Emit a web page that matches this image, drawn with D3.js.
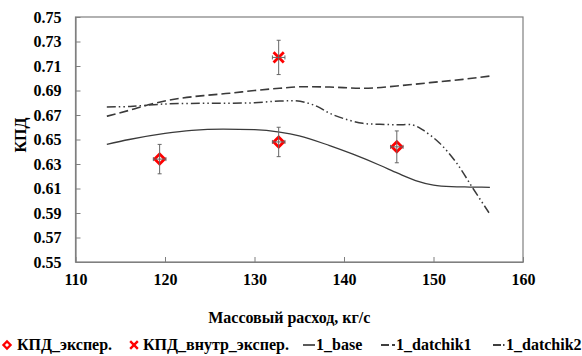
<!DOCTYPE html>
<html>
<head>
<meta charset="utf-8">
<script src="https://cdn.jsdelivr.net/npm/d3@7"></script>
<style>
  body { margin: 0; background: #fff; }
  svg text { font-family: "Liberation Serif", "DejaVu Serif", serif !important; font-weight: bold; fill: #000; }
</style>
</head>
<body>
<svg id="chart" width="582" height="356"></svg>
<script>
// experimental points
const expX = [119.4, 132.7, 145.9];
const expY = [0.634, 0.648, 0.644];
const expErr = [0.012, 0.012, 0.013];
const innerX = [132.7];
const innerY = [0.717];
const innerErr = [0.014];
const xErr = 0.7;

// model curves
const baseX = [113.5, 116, 120, 123, 126.5, 130, 132.8, 135, 138.4, 141, 144, 146, 148, 150, 152, 154, 156.3];
const baseY = [0.646, 0.650, 0.655, 0.6575, 0.6585, 0.658, 0.656, 0.653, 0.645, 0.638, 0.629, 0.6225, 0.6165, 0.6128, 0.6115, 0.6112, 0.611];
const d1X = [113.5, 116.1, 118.5, 121.7, 124.5, 127.2, 130, 132.8, 135.4, 138.4, 142.1, 145.9, 149.6, 153.3, 156.3];
const d1Y = [0.669, 0.674, 0.679, 0.6836, 0.686, 0.6877, 0.690, 0.6918, 0.6931, 0.6928, 0.6918, 0.6937, 0.6964, 0.6991, 0.7018];
const d2X = [113.5, 116.1, 120, 124, 127.2, 130, 132.8, 135.1, 137, 138.4, 140, 142.1, 144, 146, 147.7, 148.8, 150.7, 152.6, 154.4, 156.2];
const d2Y = [0.6765, 0.677, 0.679, 0.6795, 0.6796, 0.680, 0.6814, 0.6812, 0.677, 0.6714, 0.667, 0.6632, 0.6624, 0.662, 0.6618, 0.6578, 0.6469, 0.6306, 0.6102, 0.5902];

const xTicks = [110, 120, 130, 140, 150, 160];
const yTicks = [0.55, 0.57, 0.59, 0.61, 0.63, 0.65, 0.67, 0.69, 0.71, 0.73, 0.75];

const FONT = '"Liberation Serif", "DejaVu Serif", serif';

const svg = d3.select('#chart');
const margin = { top: 17, left: 75.5, right: 59, bottom: 94 };
const width = 582 - margin.left - margin.right;
const height = 356 - margin.top - margin.bottom;

const x = d3.scaleLinear().domain([110, 160]).range([0, width]);
const y = d3.scaleLinear().domain([0.55, 0.75]).range([height, 0]);

const g = svg.append('g').attr('transform', 'translate(' + margin.left + ',' + margin.top + ')');

// frame
g.append('rect')
  .attr('width', width).attr('height', height)
  .attr('fill', 'none').attr('stroke', '#7f7f7f').attr('stroke-width', 1.2);

// axes, ticks inward
const xAxis = d3.axisBottom(x).tickValues(xTicks).tickSizeInner(-5).tickSizeOuter(0).tickPadding(12).tickFormat(d3.format('d'));
const yAxis = d3.axisLeft(y).tickValues(yTicks).tickSizeInner(-5).tickSizeOuter(0).tickPadding(14).tickFormat(d3.format('.2f'));

const gx = g.append('g').attr('transform', 'translate(0,' + height + ')').call(xAxis);
const gy = g.append('g').call(yAxis);
[gx, gy].forEach(a => {
  a.attr('font-family', FONT);
  a.select('.domain').attr('stroke', '#7f7f7f').attr('stroke-width', 1.2);
  a.selectAll('.tick line').attr('stroke', '#7f7f7f');
  a.selectAll('.tick text').style('font-size', '16px').style('font-family', FONT).attr('fill', '#000');
});

// lines
const line = d3.line().x(d => x(d[0])).y(d => y(d[1])).curve(d3.curveMonotoneX);
const lineCol = '#3a3a3a';
g.append('path').datum(d3.zip(baseX, baseY)).attr('d', line)
  .attr('fill', 'none').attr('stroke', lineCol).attr('stroke-width', 1.3);
g.append('path').datum(d3.zip(d1X, d1Y)).attr('d', line)
  .attr('fill', 'none').attr('stroke', lineCol).attr('stroke-width', 1.6).attr('stroke-dasharray', '9,4');
g.append('path').datum(d3.zip(d2X, d2Y)).attr('d', d3.line().x(d => x(d[0])).y(d => y(d[1])).curve(d3.curveCatmullRom))
  .attr('fill', 'none').attr('stroke', lineCol).attr('stroke-width', 1.5).attr('stroke-dasharray', '9,3,1.5,3,1.5,3');

// error bars
function errorBars(xs, ys, es) {
  const eg = g.append('g').attr('stroke', '#666').attr('stroke-width', 1);
  xs.forEach((xv, i) => {
    const px = x(xv), py = y(ys[i]);
    const top = y(ys[i] + es[i]), bot = y(ys[i] - es[i]);
    eg.append('line').attr('x1', px).attr('x2', px).attr('y1', top).attr('y2', bot);
    eg.append('line').attr('x1', px - 2).attr('x2', px + 2).attr('y1', top).attr('y2', top);
    eg.append('line').attr('x1', px - 2).attr('x2', px + 2).attr('y1', bot).attr('y2', bot);
    const l = x(xv - xErr), r = x(xv + xErr);
    eg.append('line').attr('x1', l).attr('x2', r).attr('y1', py).attr('y2', py);
    eg.append('line').attr('x1', l).attr('x2', l).attr('y1', py - 2).attr('y2', py + 2);
    eg.append('line').attr('x1', r).attr('x2', r).attr('y1', py - 2).attr('y2', py + 2);
  });
}

// diamonds
const diamond = d3.symbol().type(d3.symbolSquare).size(50);
g.selectAll('.exp').data(d3.zip(expX, expY)).enter().append('path')
  .attr('class', 'exp')
  .attr('d', diamond)
  .attr('transform', d => 'translate(' + x(d[0]) + ',' + y(d[1]) + ') rotate(45)')
  .attr('fill', 'none').attr('stroke', '#ff0000').attr('stroke-width', 2.8);
errorBars(expX, expY, expErr);

// crosses
const cross = d3.symbol().type(d3.symbolX).size(70);
g.selectAll('.inner').data(d3.zip(innerX, innerY)).enter().append('path')
  .attr('class', 'inner')
  .attr('d', cross)
  .attr('transform', d => 'translate(' + x(d[0]) + ',' + y(d[1]) + ')')
  .attr('fill', 'none').attr('stroke', '#ff0000').attr('stroke-width', 2.8);
errorBars(innerX, innerY, innerErr);

// axis titles
svg.append('text')
  .attr('x', margin.left + width / 2 - 10).attr('y', 323)
  .attr('text-anchor', 'middle').style('font-size', '16px').style('font-family', FONT)
  .text('Массовый расход, кг/с');
svg.append('text')
  .attr('transform', 'translate(26,135) rotate(-90)')
  .attr('text-anchor', 'middle').style('font-size', '16px').style('font-family', FONT)
  .text('КПД');

// legend
const lg = svg.append('g').attr('transform', 'translate(0,350)').style('font-family', FONT);
lg.append('path').attr('d', d3.symbol().type(d3.symbolSquare).size(26))
  .attr('transform', 'translate(7,-5) rotate(45)')
  .attr('fill', 'none').attr('stroke', '#ff0000').attr('stroke-width', 2.2);
lg.append('text').attr('x', 17).attr('y', 0).style('font-size', '16px').text('КПД_экспер.');
lg.append('path').attr('d', d3.symbol().type(d3.symbolX).size(40))
  .attr('transform', 'translate(134,-5)')
  .attr('fill', 'none').attr('stroke', '#ff0000').attr('stroke-width', 2.4);
lg.append('text').attr('x', 143).attr('y', 0).style('font-size', '16px').text('КПД_внутр_экспер.');
lg.append('line').attr('x1', 303).attr('x2', 315).attr('y1', -5).attr('y2', -5)
  .attr('stroke', '#000').attr('stroke-width', 1.3);
lg.append('text').attr('x', 316).attr('y', 0).style('font-size', '16px').text('1_base');
lg.append('line').attr('x1', 381).attr('x2', 395).attr('y1', -5).attr('y2', -5)
  .attr('stroke', '#000').attr('stroke-width', 1.5).attr('stroke-dasharray', '8,3');
lg.append('text').attr('x', 396).attr('y', 0).style('font-size', '16px').text('1_datchik1');
lg.append('line').attr('x1', 493).attr('x2', 505).attr('y1', -5).attr('y2', -5)
  .attr('stroke', '#000').attr('stroke-width', 1.5).attr('stroke-dasharray', '8,2,1.5,2');
lg.append('text').attr('x', 506).attr('y', 0).style('font-size', '16px').text('1_datchik2');
</script>
</body>
</html>
